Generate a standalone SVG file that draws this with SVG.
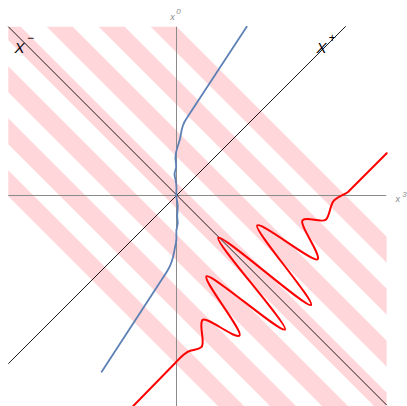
<svg xmlns="http://www.w3.org/2000/svg" width="407" height="406" viewBox="0 0 407 406">
<style>
.stripe{fill:#FFD7DA;stroke:none}
.axis{stroke:#8a8a8a;stroke-width:1;fill:none}
.cone{stroke:#1a1a1a;stroke-width:1;fill:none}
.axlab{font-family:"Liberation Sans",Arial,sans-serif;font-style:italic;fill:#8a8a8a}
.conelab{font-family:"Liberation Sans",Arial,sans-serif;font-style:italic;fill:#000}
.blue{stroke:#5E81B5;stroke-width:1.8;fill:none;stroke-linejoin:round;stroke-linecap:round}
.red{stroke:#FF0000;stroke-width:2;fill:none;stroke-linejoin:round;stroke-linecap:round}
</style>
<defs>
<clipPath id="plot"><rect x="8.3" y="26.7" width="378.4" height="379.3"/></clipPath>
</defs>
<rect width="407" height="406" fill="#fff"/>
<g id="stripes" clip-path="url(#plot)">
<polygon class="stripe" points="150,0 570,420 544,420 124,0"/>
<polygon class="stripe" points="98,0 518,420 492,420 72,0"/>
<polygon class="stripe" points="46,0 466,420 440,420 20,0"/>
<polygon class="stripe" points="-6,0 414,420 388,420 -32,0"/>
<polygon class="stripe" points="-58,0 362,420 336,420 -84,0"/>
<polygon class="stripe" points="-110,0 310,420 284,420 -136,0"/>
<polygon class="stripe" points="-162,0 258,420 232,420 -188,0"/>
</g>
<g id="axes">
<line class="axis" x1="8.3" y1="195.5" x2="386.2" y2="195.5"/>
<line class="axis" x1="176.5" y1="26.7" x2="176.5" y2="406"/>
<text class="axlab" x="170.3" y="19.5" font-size="9">x</text>
<text class="axlab" x="176.3" y="14" font-size="8">0</text>
<text class="axlab" x="395.5" y="202" font-size="9">x</text>
<text class="axlab" x="402.3" y="197" font-size="8">3</text>
</g>
<g id="connectors">
<line id="xminus-line" class="cone" x1="8.3" y1="26.7" x2="386.7" y2="405.1"/>
<line id="xplus-line" class="cone" x1="8.3" y1="363.7" x2="345.7" y2="26.3"/>
<path id="blue-curve" class="blue" d="M246.7,26.7 L187,117.7 Q184,122 182.75,126 Q181.5,130 180.75,135 Q180,140 178.4,144.25 Q176.8,148.5 175.9,153.25 Q175,158 175.85,162.5 Q176.7,167 175.35,170.25 Q174,173.5 174.85,176.75 Q175.7,180 176.2,184 Q176.7,188 176.35,192.25 Q176,196.5 177.15,201.5 Q178.3,206.5 177.5,211.5 Q176.7,216.5 177.5,219.9 Q178.3,223.3 177.15,226.65 Q176,230 176.35,235 Q176.7,240 175.85,243.5 Q175,247 174.15,251.85 Q173.3,256.7 171.65,261.7 Q170,266.7 167,271.5 L101.7,371.7"/>
<path id="red-curve" class="red" d="M133.3,406 L175,363.3 C179,359 184,352.5 191,350.5 C195.5,349.3 198.5,349.5 201.5,347 C205.6,342.9 198.4,324.1 202.5,320 C206.6,315.9 235.4,339.6 239.5,335.5 C243.6,331.4 202.4,280.4 206.5,276.3 C210.6,272.2 280.9,333.6 285,329.5 C289.1,325.4 214.2,241.9 218.3,237.8 C222.4,233.7 306.9,309.1 311,305 C315.1,300.9 253.1,229.6 257.2,225.5 C261.3,221.4 313.5,263.4 317.6,259.3 C321.7,255.2 298.5,224.3 302.6,220.2 C306.7,216.1 321.9,223.6 326,219.5 C330.1,215.4 329.9,204.6 334,200.5 C338.1,196.4 343,195.5 348,192 L386.7,153.3"/>
</g>
<g id="label-xminus">
<text class="conelab" x="14.5" y="53.3" font-size="15">X</text>
<text class="conelab" x="27" y="41.5" font-size="12">−</text>
</g>
<g id="label-xplus">
<text class="conelab" x="316.5" y="53.3" font-size="15">X</text>
<text class="conelab" x="328.5" y="42" font-size="12">+</text>
</g>
</svg>
